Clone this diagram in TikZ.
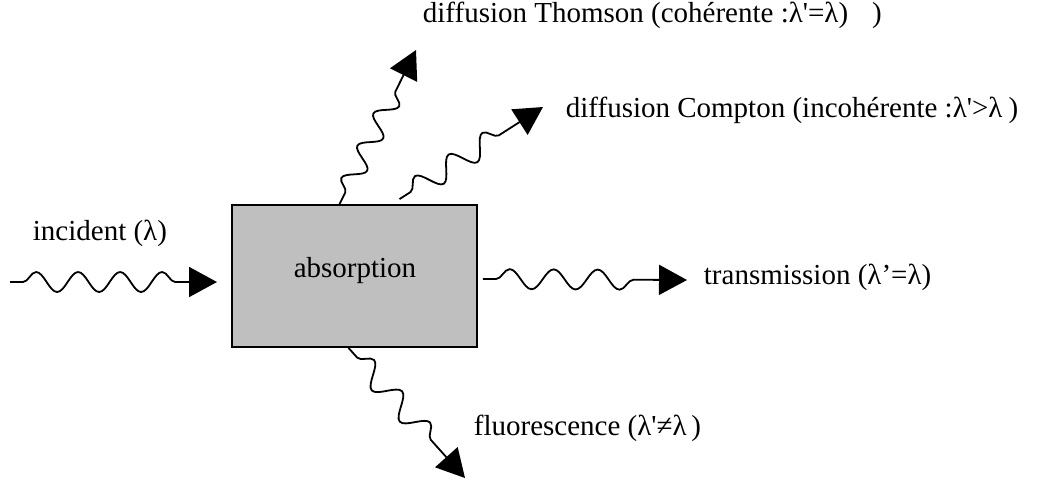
\documentclass[tikz,border=0pt]{standalone}
\usepackage{fontspec}
\setmainfont{Liberation Serif}
\usetikzlibrary{calc, positioning, decorations.pathmorphing, arrows.meta}

\begin{document}
\begin{tikzpicture}[x=0.5pt, y=-0.5pt, line width=0.9pt,
    wave/.style={decorate, decoration={snake, segment length=#1, amplitude=5pt,
        pre length=6.5pt, post length=17pt}, -{Triangle[length=14pt, width=15pt]}},
    lbl/.style={anchor=west, inner sep=0pt, font=\fontsize{14.5}{17}\selectfont}]
    \useasboundingbox (0,0) rectangle (1047,479);

    % Bloc absorbant
    \node[draw, fill=black!25, minimum width=122.5pt, minimum height=71pt,
        inner sep=0pt] (abs) at (354.5,276) {};
    \node[lbl, anchor=base] (absLbl) at (355,277) {absorption};

    % Points de départ et d'arrivée des ondes
    \coordinate (inc) at (10,282);
    \coordinate (incTip) at (217,282);
    \coordinate (transStart) at ($(abs.east)+(5,3)$);
    \coordinate (transTip) at (687,280);
    \coordinate (thomStart) at ($(abs.north)+(-15,0)$);
    \coordinate (thomTip) at (416,50);
    \coordinate (compStart) at ($(abs.north)+(45,-5)$);
    \coordinate (compTip) at (543,107);
    \coordinate (fluoStart) at ($(abs.south)+(-6,0)$);
    \coordinate (fluoTip) at (465,478);

    % Ondes
    \draw[wave=21pt] (inc) -- (incTip);
    \draw[wave=22pt] (transStart) -- (transTip);
    \draw[wave=18pt, decoration={amplitude=5pt}] (thomStart) -- (thomTip);
    \draw[wave=20pt, decoration={amplitude=5.5pt}] (compStart) -- (compTip);
    \draw[wave=21pt, decoration={amplitude=5.5pt}] (fluoStart) -- (fluoTip);

    % Légendes
    \node[lbl] (incLbl) at (32,233) {incident (λ)};
    \node[lbl] (transLbl) at (703,277) {transmission (λ’=λ)};
    \node[lbl] (thomLbl) at (422,15) {diffusion Thomson (cohérente :λ\textquotesingle=λ)\hspace{12pt})};
    \node[lbl] (compLbl) at (565,110) {diffusion Compton (incohérente :λ\textquotesingle>λ\hspace{3pt})};
    \node[lbl] (fluoLbl) at (473,428) {fluorescence (λ\textquotesingle≠λ\,)};
\end{tikzpicture}
\end{document}
